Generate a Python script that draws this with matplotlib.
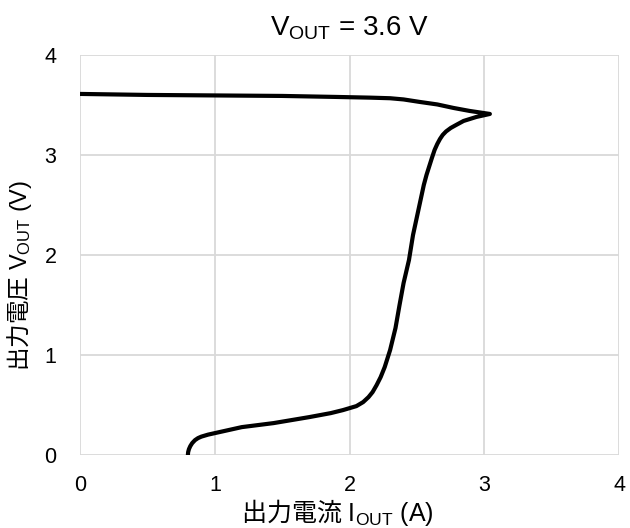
import numpy as np
import matplotlib
matplotlib.use('Agg')
from matplotlib import pyplot as plt

plt.rcParams['font.family'] = ['Liberation Sans', 'Noto Sans CJK JP', 'DejaVu Sans']
# mathtext: latin in Liberation Sans, CJK through \mathsf
plt.rcParams['mathtext.fontset'] = 'custom'
plt.rcParams['mathtext.rm'] = 'Liberation Sans'
plt.rcParams['mathtext.sf'] = 'Noto Sans CJK JP'
plt.rcParams['mathtext.default'] = 'regular'

# 出力電流 (A) / 出力電圧 (V)
i_out = [0.00, 0.50, 1.00, 1.50, 1.90, 2.15, 2.30, 2.40, 2.52, 2.65, 2.77,
         2.89, 3.04, 2.94, 2.845, 2.79, 2.75, 2.715, 2.69, 2.67, 2.65, 2.63,
         2.61, 2.57, 2.55, 2.51, 2.47, 2.44, 2.40, 2.37, 2.34, 2.30, 2.26,
         2.23, 2.20, 2.17, 2.14, 2.10, 2.05, 1.95, 1.86, 1.70, 1.435, 1.20,
         1.00, 0.95, 0.90, 0.875, 0.853, 0.832, 0.818, 0.808, 0.802, 0.80]
v_out = [3.61, 3.60, 3.595, 3.59, 3.58, 3.573, 3.567, 3.555, 3.53, 3.505, 3.47,
         3.44, 3.41, 3.38, 3.34, 3.30, 3.27, 3.235, 3.20, 3.16, 3.11, 3.05,
         2.97, 2.80, 2.70, 2.45, 2.20, 1.95, 1.72, 1.50, 1.27, 1.05, 0.88,
         0.78, 0.70, 0.63, 0.58, 0.53, 0.49, 0.45, 0.42, 0.38, 0.32, 0.28,
         0.22, 0.205, 0.185, 0.17, 0.15, 0.12, 0.09, 0.06, 0.03, 0.00]
ticks = [0, 1, 2, 3, 4]

fig = plt.figure(figsize=(6.3, 5.28), dpi=100)
ax = fig.add_axes([0.127, 0.138, 0.856, 0.758])

ax.plot(i_out, v_out, color='black', lw=3, solid_joinstyle='round', solid_capstyle='butt')

ax.set_xlim(0, 4)
ax.set_ylim(0, 4)
ax.set_xticks(ticks)
ax.set_yticks(ticks)
ax.grid(True, color='#d9d9d9', lw=1.3)
ax.set_axisbelow(True)
for s in ax.spines.values():
    s.set_visible(False)
ax.tick_params(length=0, labelsize=15.5)
ax.tick_params(axis='x', pad=14)
ax.tick_params(axis='y', pad=17)

ax.set_title('V$_{OUT}$ = 3.6 V', fontsize=20, pad=14)
ax.set_xlabel(r'$\mathsf{出力電流}$ I$_{OUT}$ (A)', fontsize=18)
ax.set_ylabel(r'$\mathsf{出力電圧}$ V$_{OUT}$ (V)', fontsize=17)
ax.xaxis.set_label_coords(0.477, -0.105)
ax.yaxis.set_label_coords(-0.085, 0.45)

fig.savefig('out.png', dpi=100)
